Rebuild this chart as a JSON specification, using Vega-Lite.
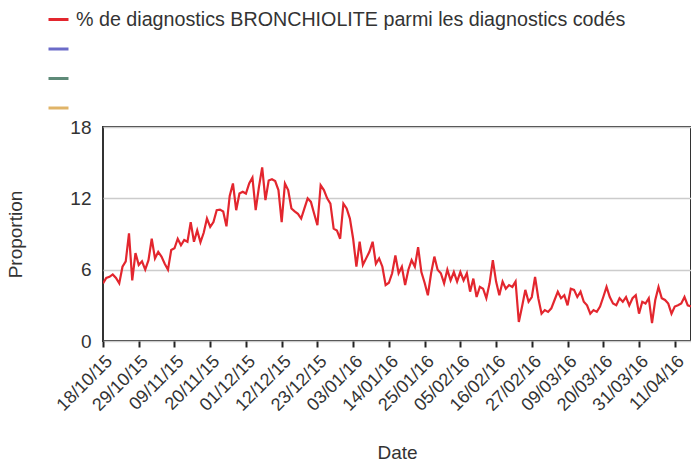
{
  "$schema": "https://vega.github.io/schema/vega-lite/v6.json",
  "width": 588,
  "height": 214,
  "autosize": {"type": "none"},
  "padding": {"left": 103, "top": 127, "right": 0, "bottom": 126},
  "background": "white",
  "config": {
    "font": "Liberation Sans",
    "view": {"stroke": "#333333", "strokeWidth": 2}
  },
  "data": {
    "values": [
      {"date": "2015-10-18", "value": 4.85}, {"date": "2015-10-19", "value": 5.3}, {"date": "2015-10-20", "value": 5.4}, {"date": "2015-10-21", "value": 5.6}, {"date": "2015-10-22", "value": 5.3}, {"date": "2015-10-23", "value": 4.85}, {"date": "2015-10-24", "value": 6.25}, {"date": "2015-10-25", "value": 6.7}, {"date": "2015-10-26", "value": 9.05}, {"date": "2015-10-27", "value": 5.1}, {"date": "2015-10-28", "value": 7.4}, {"date": "2015-10-29", "value": 6.4}, {"date": "2015-10-30", "value": 6.7}, {"date": "2015-10-31", "value": 6.0},
      {"date": "2015-11-01", "value": 6.8}, {"date": "2015-11-02", "value": 8.6}, {"date": "2015-11-03", "value": 6.95}, {"date": "2015-11-04", "value": 7.5}, {"date": "2015-11-05", "value": 7.1}, {"date": "2015-11-06", "value": 6.5}, {"date": "2015-11-07", "value": 6.0}, {"date": "2015-11-08", "value": 7.65}, {"date": "2015-11-09", "value": 7.8}, {"date": "2015-11-10", "value": 8.6}, {"date": "2015-11-11", "value": 8.05}, {"date": "2015-11-12", "value": 8.5}, {"date": "2015-11-13", "value": 8.35}, {"date": "2015-11-14", "value": 10.0}, {"date": "2015-11-15", "value": 8.35}, {"date": "2015-11-16", "value": 9.3}, {"date": "2015-11-17", "value": 8.3}, {"date": "2015-11-18", "value": 9.1}, {"date": "2015-11-19", "value": 10.3}, {"date": "2015-11-20", "value": 9.6}, {"date": "2015-11-21", "value": 10.0}, {"date": "2015-11-22", "value": 11.0}, {"date": "2015-11-23", "value": 11.05}, {"date": "2015-11-24", "value": 10.9}, {"date": "2015-11-25", "value": 9.65}, {"date": "2015-11-26", "value": 12.2}, {"date": "2015-11-27", "value": 13.25}, {"date": "2015-11-28", "value": 11.0}, {"date": "2015-11-29", "value": 12.4}, {"date": "2015-11-30", "value": 12.55},
      {"date": "2015-12-01", "value": 12.4}, {"date": "2015-12-02", "value": 13.25}, {"date": "2015-12-03", "value": 13.75}, {"date": "2015-12-04", "value": 11.0}, {"date": "2015-12-05", "value": 12.95}, {"date": "2015-12-06", "value": 14.6}, {"date": "2015-12-07", "value": 11.85}, {"date": "2015-12-08", "value": 13.5}, {"date": "2015-12-09", "value": 13.6}, {"date": "2015-12-10", "value": 13.45}, {"date": "2015-12-11", "value": 12.7}, {"date": "2015-12-12", "value": 10.0}, {"date": "2015-12-13", "value": 13.25}, {"date": "2015-12-14", "value": 12.7}, {"date": "2015-12-15", "value": 11.15}, {"date": "2015-12-16", "value": 10.9}, {"date": "2015-12-17", "value": 10.7}, {"date": "2015-12-18", "value": 10.3}, {"date": "2015-12-19", "value": 11.15}, {"date": "2015-12-20", "value": 12.0}, {"date": "2015-12-21", "value": 11.7}, {"date": "2015-12-22", "value": 10.7}, {"date": "2015-12-23", "value": 9.75}, {"date": "2015-12-24", "value": 13.1}, {"date": "2015-12-25", "value": 12.7}, {"date": "2015-12-26", "value": 12.0}, {"date": "2015-12-27", "value": 11.55}, {"date": "2015-12-28", "value": 9.45}, {"date": "2015-12-29", "value": 9.3}, {"date": "2015-12-30", "value": 8.6}, {"date": "2015-12-31", "value": 11.55},
      {"date": "2016-01-01", "value": 11.15}, {"date": "2016-01-02", "value": 10.3}, {"date": "2016-01-03", "value": 8.6}, {"date": "2016-01-04", "value": 6.25}, {"date": "2016-01-05", "value": 8.35}, {"date": "2016-01-06", "value": 6.4}, {"date": "2016-01-07", "value": 6.95}, {"date": "2016-01-08", "value": 7.5}, {"date": "2016-01-09", "value": 8.35}, {"date": "2016-01-10", "value": 6.5}, {"date": "2016-01-11", "value": 6.95}, {"date": "2016-01-12", "value": 6.25}, {"date": "2016-01-13", "value": 4.7}, {"date": "2016-01-14", "value": 4.9}, {"date": "2016-01-15", "value": 5.7}, {"date": "2016-01-16", "value": 7.2}, {"date": "2016-01-17", "value": 5.7}, {"date": "2016-01-18", "value": 6.25}, {"date": "2016-01-19", "value": 4.7}, {"date": "2016-01-20", "value": 6.0}, {"date": "2016-01-21", "value": 6.8}, {"date": "2016-01-22", "value": 6.25}, {"date": "2016-01-23", "value": 7.9}, {"date": "2016-01-24", "value": 5.8}, {"date": "2016-01-25", "value": 4.9}, {"date": "2016-01-26", "value": 3.85}, {"date": "2016-01-27", "value": 5.7}, {"date": "2016-01-28", "value": 7.1}, {"date": "2016-01-29", "value": 6.0}, {"date": "2016-01-30", "value": 5.7}, {"date": "2016-01-31", "value": 4.85},
      {"date": "2016-02-01", "value": 6.0}, {"date": "2016-02-02", "value": 5.1}, {"date": "2016-02-03", "value": 5.8}, {"date": "2016-02-04", "value": 5.0}, {"date": "2016-02-05", "value": 5.8}, {"date": "2016-02-06", "value": 5.1}, {"date": "2016-02-07", "value": 5.7}, {"date": "2016-02-08", "value": 4.15}, {"date": "2016-02-09", "value": 5.25}, {"date": "2016-02-10", "value": 3.7}, {"date": "2016-02-11", "value": 4.55}, {"date": "2016-02-12", "value": 4.4}, {"date": "2016-02-13", "value": 3.6}, {"date": "2016-02-14", "value": 4.85}, {"date": "2016-02-15", "value": 6.8}, {"date": "2016-02-16", "value": 5.0}, {"date": "2016-02-17", "value": 3.85}, {"date": "2016-02-18", "value": 5.0}, {"date": "2016-02-19", "value": 4.4}, {"date": "2016-02-20", "value": 4.7}, {"date": "2016-02-21", "value": 4.55}, {"date": "2016-02-22", "value": 5.0}, {"date": "2016-02-23", "value": 1.6}, {"date": "2016-02-24", "value": 2.9}, {"date": "2016-02-25", "value": 4.3}, {"date": "2016-02-26", "value": 3.3}, {"date": "2016-02-27", "value": 3.7}, {"date": "2016-02-28", "value": 5.4}, {"date": "2016-02-29", "value": 3.6},
      {"date": "2016-03-01", "value": 2.3}, {"date": "2016-03-02", "value": 2.6}, {"date": "2016-03-03", "value": 2.45}, {"date": "2016-03-04", "value": 2.75}, {"date": "2016-03-05", "value": 3.45}, {"date": "2016-03-06", "value": 4.15}, {"date": "2016-03-07", "value": 3.6}, {"date": "2016-03-08", "value": 3.85}, {"date": "2016-03-09", "value": 3.0}, {"date": "2016-03-10", "value": 4.4}, {"date": "2016-03-11", "value": 4.3}, {"date": "2016-03-12", "value": 3.7}, {"date": "2016-03-13", "value": 4.15}, {"date": "2016-03-14", "value": 3.3}, {"date": "2016-03-15", "value": 3.0}, {"date": "2016-03-16", "value": 2.3}, {"date": "2016-03-17", "value": 2.6}, {"date": "2016-03-18", "value": 2.45}, {"date": "2016-03-19", "value": 2.9}, {"date": "2016-03-20", "value": 3.7}, {"date": "2016-03-21", "value": 4.55}, {"date": "2016-03-22", "value": 3.7}, {"date": "2016-03-23", "value": 3.15}, {"date": "2016-03-24", "value": 3.0}, {"date": "2016-03-25", "value": 3.6}, {"date": "2016-03-26", "value": 3.3}, {"date": "2016-03-27", "value": 3.7}, {"date": "2016-03-28", "value": 3.0}, {"date": "2016-03-29", "value": 3.6}, {"date": "2016-03-30", "value": 3.85}, {"date": "2016-03-31", "value": 2.3},
      {"date": "2016-04-01", "value": 3.3}, {"date": "2016-04-02", "value": 3.15}, {"date": "2016-04-03", "value": 3.6}, {"date": "2016-04-04", "value": 1.5}, {"date": "2016-04-05", "value": 3.45}, {"date": "2016-04-06", "value": 4.55}, {"date": "2016-04-07", "value": 3.6}, {"date": "2016-04-08", "value": 3.45}, {"date": "2016-04-09", "value": 3.15}, {"date": "2016-04-10", "value": 2.3}, {"date": "2016-04-11", "value": 2.9}, {"date": "2016-04-12", "value": 3.0}, {"date": "2016-04-13", "value": 3.15}, {"date": "2016-04-14", "value": 3.7}, {"date": "2016-04-15", "value": 3.0}, {"date": "2016-04-16", "value": 2.9}
    ]
  },
  "mark": {"type": "line", "strokeWidth": 2.2, "clip": true},
  "encoding": {
    "x": {
      "field": "date",
      "type": "temporal",
      "scale": {
        "type": "utc",
        "domain": [
          {"year": 2015, "month": 10, "date": 18, "utc": true},
          {"year": 2016, "month": 4, "date": 16, "utc": true}
        ]
      },
      "axis": {
        "title": "Date",
        "format": "%d/%m/%y",
        "values": [
          {"year": 2015, "month": 10, "date": 18, "utc": true},
          {"year": 2015, "month": 10, "date": 29, "utc": true},
          {"year": 2015, "month": 11, "date": 9, "utc": true},
          {"year": 2015, "month": 11, "date": 20, "utc": true},
          {"year": 2015, "month": 12, "date": 1, "utc": true},
          {"year": 2015, "month": 12, "date": 12, "utc": true},
          {"year": 2015, "month": 12, "date": 23, "utc": true},
          {"year": 2016, "month": 1, "date": 3, "utc": true},
          {"year": 2016, "month": 1, "date": 14, "utc": true},
          {"year": 2016, "month": 1, "date": 25, "utc": true},
          {"year": 2016, "month": 2, "date": 5, "utc": true},
          {"year": 2016, "month": 2, "date": 16, "utc": true},
          {"year": 2016, "month": 2, "date": 27, "utc": true},
          {"year": 2016, "month": 3, "date": 9, "utc": true},
          {"year": 2016, "month": 3, "date": 20, "utc": true},
          {"year": 2016, "month": 3, "date": 31, "utc": true},
          {"year": 2016, "month": 4, "date": 11, "utc": true}
        ],
        "labelAngle": -45,
        "labelFontSize": 18,
        "labelColor": "#333333",
        "labelPadding": 5,
        "labelOverlap": false,
        "labelFlush": false,
        "tickSize": 6,
        "tickWidth": 2,
        "tickColor": "#222222",
        "domain": false,
        "grid": false,
        "titleFontSize": 19,
        "titleFontWeight": "normal",
        "titleColor": "#333333",
        "titlePadding": 29
      }
    },
    "y": {
      "field": "value",
      "type": "quantitative",
      "scale": {"domain": [0, 18], "nice": false},
      "axis": {
        "title": "Proportion",
        "values": [0, 6, 12, 18],
        "grid": true,
        "gridColor": "#cccccc",
        "gridWidth": 1.5,
        "ticks": false,
        "domain": false,
        "labelFontSize": 19,
        "labelColor": "#333333",
        "labelPadding": 12,
        "titleFontSize": 19,
        "titleFontWeight": "normal",
        "titleColor": "#333333",
        "titlePadding": 44
      }
    },
    "color": {
      "datum": "% de diagnostics BRONCHIOLITE parmi les diagnostics codés",
      "scale": {
        "domain": ["% de diagnostics BRONCHIOLITE parmi les diagnostics codés", "b", "c", "d"],
        "range": ["#e3262e", "#6b6bc8", "#5e8a78", "#e0b468"]
      },
      "legend": {
        "title": null,
        "orient": "none",
        "legendX": -56,
        "legendY": -119,
        "padding": 0,
        "labelFontSize": 19.7,
        "labelColor": "#333333",
        "labelOffset": 6,
        "labelLimit": 0,
        "symbolType": "stroke",
        "symbolSize": 400,
        "symbolStrokeWidth": 3,
        "rowPadding": 7.5,
        "labelExpr": "length(datum.value) > 1 ? datum.label : ''"
      }
    }
  }
}
